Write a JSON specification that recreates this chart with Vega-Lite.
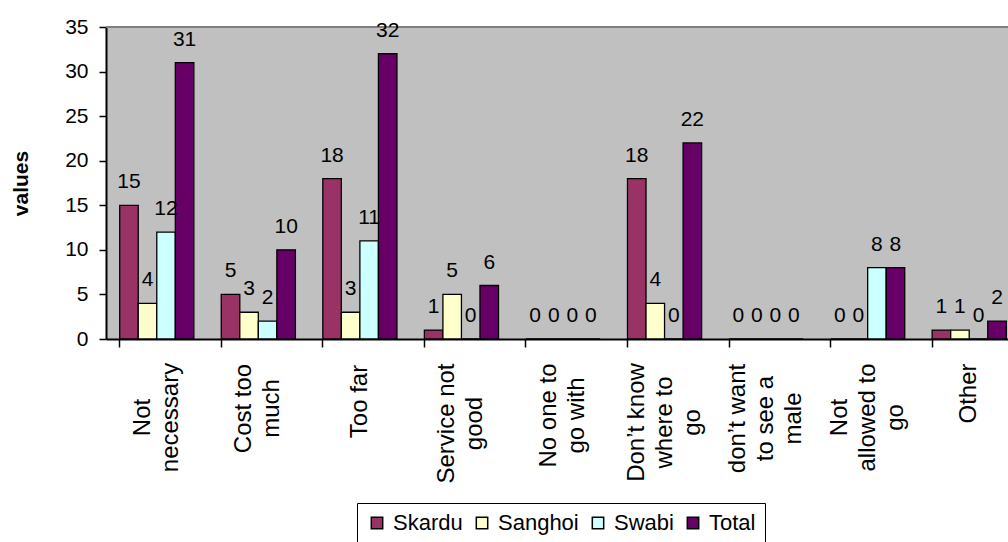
{
  "$schema": "https://vega.github.io/schema/vega-lite/v6.json",
  "width": 902,
  "height": 312,
  "autosize": {"type": "none"},
  "padding": {"left": 106, "top": 27, "right": 0, "bottom": 203},
  "background": "white",
  "config": {
    "font": "Liberation Sans",
    "view": {"fill": "#C0C0C0", "stroke": null}
  },
  "data": {
    "values": [
      {"reason": "Not necessary", "area": "Skardu", "value": 15},
      {"reason": "Not necessary", "area": "Sanghoi", "value": 4},
      {"reason": "Not necessary", "area": "Swabi", "value": 12},
      {"reason": "Not necessary", "area": "Total", "value": 31},
      {"reason": "Cost too much", "area": "Skardu", "value": 5},
      {"reason": "Cost too much", "area": "Sanghoi", "value": 3},
      {"reason": "Cost too much", "area": "Swabi", "value": 2},
      {"reason": "Cost too much", "area": "Total", "value": 10},
      {"reason": "Too far", "area": "Skardu", "value": 18},
      {"reason": "Too far", "area": "Sanghoi", "value": 3},
      {"reason": "Too far", "area": "Swabi", "value": 11},
      {"reason": "Too far", "area": "Total", "value": 32},
      {"reason": "Service not good", "area": "Skardu", "value": 1},
      {"reason": "Service not good", "area": "Sanghoi", "value": 5},
      {"reason": "Service not good", "area": "Swabi", "value": 0},
      {"reason": "Service not good", "area": "Total", "value": 6},
      {"reason": "No one to go with", "area": "Skardu", "value": 0},
      {"reason": "No one to go with", "area": "Sanghoi", "value": 0},
      {"reason": "No one to go with", "area": "Swabi", "value": 0},
      {"reason": "No one to go with", "area": "Total", "value": 0},
      {"reason": "Don\u2019t know where to go", "area": "Skardu", "value": 18},
      {"reason": "Don\u2019t know where to go", "area": "Sanghoi", "value": 4},
      {"reason": "Don\u2019t know where to go", "area": "Swabi", "value": 0},
      {"reason": "Don\u2019t know where to go", "area": "Total", "value": 22},
      {"reason": "don\u2019t want to see a male", "area": "Skardu", "value": 0},
      {"reason": "don\u2019t want to see a male", "area": "Sanghoi", "value": 0},
      {"reason": "don\u2019t want to see a male", "area": "Swabi", "value": 0},
      {"reason": "don\u2019t want to see a male", "area": "Total", "value": 0},
      {"reason": "Not allowed to go", "area": "Skardu", "value": 0},
      {"reason": "Not allowed to go", "area": "Sanghoi", "value": 0},
      {"reason": "Not allowed to go", "area": "Swabi", "value": 8},
      {"reason": "Not allowed to go", "area": "Total", "value": 8},
      {"reason": "Other", "area": "Skardu", "value": 1},
      {"reason": "Other", "area": "Sanghoi", "value": 1},
      {"reason": "Other", "area": "Swabi", "value": 0},
      {"reason": "Other", "area": "Total", "value": 2}
    ]
  },
  "encoding": {
    "x": {
      "field": "reason",
      "type": "nominal",
      "sort": null,
      "scale": {"range": [0, 914], "paddingInner": 0.27, "paddingOuter": 0.135},
      "axis": {
        "title": null,
        "bandPosition": 0,
        "labelAngle": 270,
        "labelAlign": "center",
        "labelBaseline": "middle",
        "labelFontSize": 24,
        "labelLineHeight": 28,
        "labelPadding": {
          "condition": [
            {"test": "datum.value == 'Not necessary'", "value": 70},
            {"test": "datum.value == 'Cost too much'", "value": 61},
            {"test": "datum.value == 'Service not good'", "value": 76},
            {"test": "datum.value == 'No one to go with'", "value": 68},
            {"test": "datum.value == 'Don\u2019t know where to go'", "value": 75},
            {"test": "datum.value == 'don\u2019t want to see a male'", "value": 71},
            {"test": "datum.value == 'Not allowed to go'", "value": 70},
            {"test": "datum.value == 'Other'", "value": 46}
          ],
          "value": 54
        },
        "labelOffset": {
          "condition": [
            {"test": "datum.value == 'Not necessary' || datum.value == 'Cost too much' || datum.value == 'Service not good' || datum.value == 'No one to go with'", "value": -14},
            {"test": "datum.value == 'Don\u2019t know where to go' || datum.value == 'don\u2019t want to see a male' || datum.value == 'Not allowed to go'", "value": -28}
          ],
          "value": 0
        },
        "labelColor": "black",
        "labelLimit": 400,
        "labelOverlap": false,
        "tickSize": 8,
        "tickWidth": 1.5,
        "tickColor": "black",
        "domainColor": "black",
        "domainWidth": 2,
        "labelExpr": "datum.label == 'Not necessary' ? ['Not', 'necessary'] : datum.label == 'Cost too much' ? ['Cost too', 'much'] : datum.label == 'Service not good' ? ['Service not', 'good'] : datum.label == 'No one to go with' ? ['No one to', 'go with'] : datum.label == 'Don\u2019t know where to go' ? ['Don\u2019t know', 'where to', 'go'] : datum.label == 'don\u2019t want to see a male' ? ['don\u2019t want', 'to see a', 'male'] : datum.label == 'Not allowed to go' ? ['Not', 'allowed to', 'go'] : datum.label"
      }
    },
    "xOffset": {
      "field": "area",
      "type": "nominal",
      "scale": {"domain": ["Skardu", "Sanghoi", "Swabi", "Total"], "paddingInner": 0, "paddingOuter": 0}
    },
    "y": {
      "field": "value",
      "type": "quantitative",
      "scale": {"domain": [0, 35], "nice": false},
      "axis": {
        "title": "values",
        "titleFontSize": 21,
        "titleFontWeight": "bold",
        "titleColor": "black",
        "titlePadding": 33,
        "values": [0, 5, 10, 15, 20, 25, 30, 35],
        "labelFontSize": 21,
        "labelColor": "black",
        "labelPadding": 11,
        "tickSize": 7,
        "tickWidth": 1.5,
        "tickColor": "black",
        "domainColor": "black",
        "domainWidth": 2,
        "grid": false
      }
    }
  },
  "layer": [
    {
      "mark": {"type": "rule", "color": "#808080", "strokeWidth": 2},
      "encoding": {"y": {"datum": 35}, "x": null, "xOffset": null}
    },
    {
      "mark": {"type": "bar", "stroke": "black", "strokeWidth": 1.3},
      "encoding": {
        "color": {
          "field": "area",
          "type": "nominal",
          "scale": {"domain": ["Skardu", "Sanghoi", "Swabi", "Total"], "range": ["#993366", "#FFFFCC", "#CCFFFF", "#660066"]},
          "legend": {
            "orient": "none",
            "legendX": 251,
            "legendY": 476,
            "direction": "horizontal",
            "title": null,
            "strokeColor": "black",
            "fillColor": "white",
            "padding": 9,
            "symbolType": "square",
            "symbolSize": 130,
            "symbolStrokeColor": "black",
            "symbolStrokeWidth": 1.5,
            "symbolOpacity": 1,
            "labelFontSize": 22,
            "labelColor": "black",
            "labelOffset": 5,
            "columnPadding": 8,
            "labelLimit": 200
          }
        }
      }
    },
    {
      "mark": {"type": "text", "baseline": "alphabetic", "dy": -17, "fontSize": 21, "color": "black"},
      "encoding": {"text": {"field": "value", "type": "quantitative"}}
    }
  ]
}
